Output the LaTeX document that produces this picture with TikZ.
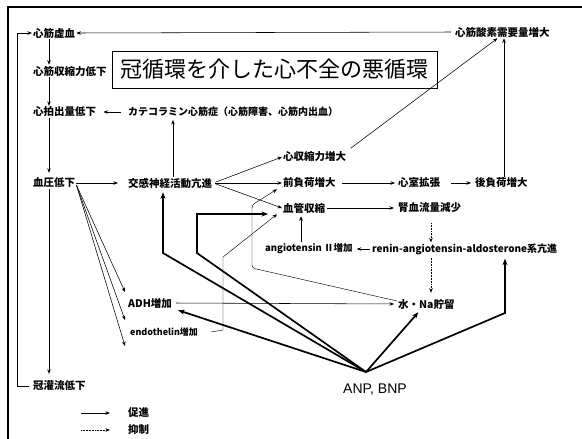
\documentclass[tikz,border=0pt]{standalone}
\usepackage{fontspec}
\setmainfont{Noto Sans CJK JP}
\newfontfamily\latinsans{Liberation Sans}
\usetikzlibrary{arrows.meta,calc}
\begin{document}
\begin{tikzpicture}[x=1pt,y=-1pt,
  lbl/.style={anchor=west,inner sep=1pt,font=\fontsize{10.5}{12}\selectfont\bfseries},
  ar/.style={-{Stealth[length=4.5pt,width=3.5pt]},line width=0.55pt},
  thk/.style={-{Stealth[length=6.5pt,width=5pt]},line width=1.7pt},
  dotar/.style={ar,densely dotted},
]
\useasboundingbox (0,0) rectangle (582,439);
\draw[line width=1.3pt] (8,439) -- (8,7) -- (582,7);

% nodes
\node[lbl] (kyo) at (32,33) {心筋虚血};
\node[lbl] (shu) at (32,71) {心筋収縮力低下};
\node[lbl] (hak) at (32,112) {心拍出量低下};
\node[lbl,font=\fontsize{10}{12}\selectfont\bfseries] (cat) at (127,112) {カテコラミン心筋症（心筋障害、心筋内出血）};
\node[draw,line width=0.8pt,minimum width=325pt,minimum height=37pt,inner sep=0pt,font=\fontsize{22}{24}\selectfont] (title) at (274.5,69.5) {冠循環を介した心不全の悪循環};
\node[lbl] (o2) at (454,32) {心筋酸素需要量増大};
\node[lbl] (bp) at (32,183) {血圧低下};
\node[lbl] (sym) at (127,183) {交感神経活動亢進};
\node[lbl] (con) at (282,157) {心収縮力増大};
\node[lbl] (pre) at (282,183) {前負荷増大};
\node[lbl] (vd) at (397,183) {心室拡張};
\node[lbl] (aft) at (474,183) {後負荷増大};
\node[lbl] (vc) at (282,208) {血管収縮};
\node[lbl] (rbf) at (397,208) {腎血流量減少};
\node[lbl,font=\fontsize{9.5}{12}\selectfont\bfseries] (ang) at (264,249) {angiotensin Ⅱ増加};
\node[lbl,font=\fontsize{10}{12}\selectfont\bfseries] (raa) at (371,249) {renin-angiotensin-aldosterone系亢進};
\node[lbl] (adh) at (127,303) {ADH増加};
\node[lbl,font=\fontsize{9}{12}\selectfont\bfseries] (endo) at (129,332) {endothelin増加};
\node[lbl] (wna) at (397,304) {水・Na貯留};
\node[inner sep=1pt,font=\latinsans\fontsize{14}{16}\selectfont] (anp) at (375,390) {ANP, BNP};
\node[lbl] (cor) at (32,386) {冠灌流低下};
\node[lbl] (l1) at (127,413) {促進};
\node[lbl] (l2) at (127,430) {抑制};

% helper coordinates
\coordinate (c0) at (17,0);
\coordinate (c1) at (49,0);
\coordinate (c2) at (173,0);
\coordinate (c3) at (504,0);
\coordinate (c4) at (431,0);
\coordinate (c5) at (301,0);
\coordinate (c6) at (505,0);
\coordinate (f1) at (125,292);
\coordinate (f2) at (125,320);
\coordinate (f3) at (125,346);
\coordinate (p1) at (252,268);
\coordinate (p2) at (252,205);
\coordinate (e1) at (223,330);
\coordinate (e2) at (223,257);
\coordinate (apex) at (366,372);
\coordinate (k1) at (505,313);
\coordinate (k2) at (163,253);
\coordinate (k3) at (197,253);
\coordinate (k4) at (197,214);

% left column
\draw[ar] (kyo.south -| c1) -- (shu.north -| c1);
\draw[ar] (shu.south -| c1) -- (hak.north -| c1);
\draw[ar] (hak.south -| c1) -- ([yshift=4pt]bp.north -| c1);
\draw[ar] (bp.south -| c1) -- ([yshift=6pt]cor.north -| c1);
\draw[ar] ([xshift=-3pt]cor.west) -- (cor.west -| c0) -- (kyo.west -| c0) -- (kyo.west);
\draw[ar,shorten <=6pt,shorten >=6pt] (cat.west) -- (hak.east);
\draw[ar] (sym.north -| c2) -- ([yshift=-2pt]cat.south -| c2);
\draw[ar,shorten >=9pt] (bp.east) -- (sym.west);
\draw[ar] ([yshift=-2pt]bp.east) -- (f1);
\draw[ar] ([yshift=-2pt]bp.east) -- (f2);
\draw[ar] ([yshift=-2pt]bp.east) -- (f3);

% sympathetic branch
\draw[ar,shorten <=2pt] (sym.east) -- (con.west);
\draw[ar,line width=0.9pt,shorten <=2pt] (sym.east) -- (pre.west);
\draw[ar,shorten <=2pt] (sym.east) -- (vc.west);
\draw[ar,shorten <=4pt] (con.north east) -- ([xshift=-5pt]o2.south);
\draw[ar] (aft.north -| c3) -- (o2.south -| c3);
\draw[ar,shorten <=3pt] (o2.west) -- (kyo.east);
\draw[ar,shorten <=5pt,shorten >=2pt] (pre.east) -- (vd.west);
\draw[ar,shorten <=10pt,shorten >=3pt] (vd.east) -- (aft.west);
\draw[ar,shorten <=1pt,shorten >=3pt] (vc.east) -- (rbf.west);

% renin system
\draw[dotar,shorten <=9pt] (rbf.south -| c4) -- (raa.north -| c4);
\draw[dotar,shorten <=2pt,shorten >=5pt] (raa.south -| c4) -- (wna.north -| c4);
\draw[ar,shorten <=1pt,shorten >=3pt] (raa.west) -- (ang.east);
\draw[ar,shorten <=1pt,shorten >=2pt] (ang.north -| c5) -- (vc.south -| c5);

% water / Na
\draw[ar,shorten <=3pt,shorten >=3pt] (adh.east) -- (wna.west);
\draw[ar,line width=0.45pt,rounded corners=3pt] ([yshift=3pt]wna.west) -- (p1) -- (p2) -- ([xshift=-5pt]pre.south west);
\draw[ar,line width=0.45pt] ([xshift=12pt]endo.east) -- (e1) -- (e2) -- ([xshift=-5pt]vc.south west);

% ANP, BNP
\draw[thk] (apex) -- ([xshift=-8pt,yshift=-2pt]wna.south);
\draw[thk] (apex) -- (k1) -- ([yshift=-3pt]raa.south -| c6);
\draw[thk] (apex) -- ([xshift=5pt,yshift=-1pt]adh.south east);
\draw[thk] (apex) -- (k2) -- ([yshift=-3pt]sym.south -| k2);
\draw[thk] (apex) -- (k3) -- (k4) -- ([xshift=-14pt]k4 -| vc.west);

% legend
\draw[ar] ([xshift=-46pt]l1.west) -- ([xshift=-17pt]l1.west);
\draw[dotar] ([xshift=-46pt]l2.west) -- ([xshift=-17pt]l2.west);
\end{tikzpicture}
\end{document}
